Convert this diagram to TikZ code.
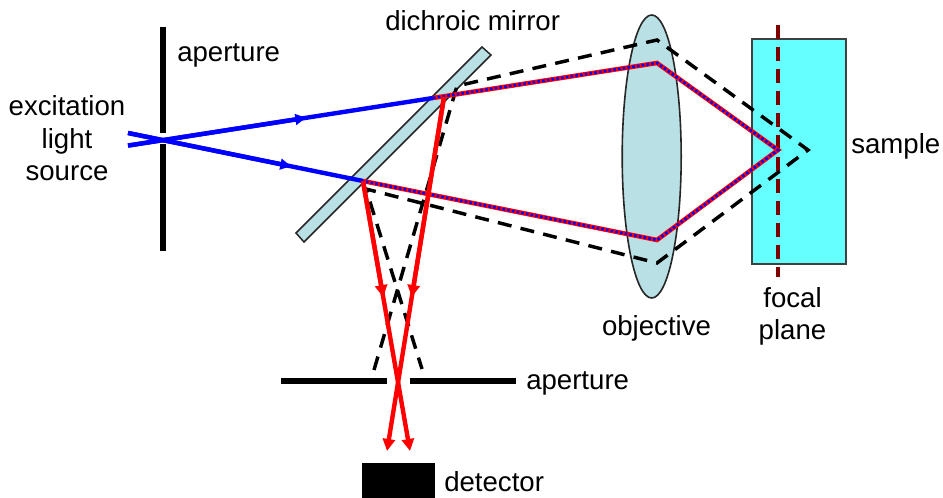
\documentclass[tikz,border=0pt]{standalone}
\usepackage{fontspec}
\setmainfont{Liberation Sans}
\usetikzlibrary{arrows.meta,shapes.geometric,calc}
\definecolor{lensfill}{RGB}{185,224,228}
\definecolor{samplefill}{RGB}{102,255,255}
\definecolor{focalred}{RGB}{128,0,0}
\definecolor{rayblue}{RGB}{0,0,255}
\definecolor{rayred}{RGB}{255,0,0}
\tikzset{
  label text/.style={font=\fontsize{20.7pt}{24pt}\selectfont,inner sep=0pt,text=black},
  stop bar/.style={line width=4.5pt,black},
  blue ray/.style={line width=3.3pt,rayblue,line join=miter},
  red ray/.style={line width=3.3pt,rayred},
  mixed under/.style={line width=3.4pt,rayred,line join=miter},
  mixed over/.style={line width=2pt,rayblue,dash pattern=on 2pt off 1.6pt,line join=miter},
  black dash/.style={line width=2.6pt,black,dash pattern=on 10.5pt off 7pt,line join=miter},
  focal dash/.style={line width=2.6pt,focalred,dash pattern=on 10.5pt off 6pt},
  tip/.style={-{Triangle[length=9pt,width=9pt]}},
  smalltip/.style={-{Triangle[length=8pt,width=8pt]}},
}
\begin{document}
\begin{tikzpicture}[x=0.75pt,y=-0.75pt]
\useasboundingbox (0,0) rectangle (943,498);
% key points
\coordinate (srcA) at (128,133);
\coordinate (srcB) at (128,145.6);
\coordinate (mirA) at (433,98);
\coordinate (mirB) at (363,181);
\coordinate (mirAr) at (444,97);
\coordinate (lensA) at (657,63);
\coordinate (lensB) at (657,240);
\coordinate (focus) at (778,150);
\coordinate (dashTop) at (657,40);
\coordinate (dashBot) at (657,263);
\coordinate (dashTip) at (808,150);
\coordinate (dashA) at (457,86);
\coordinate (dashB) at (366,189);
\coordinate (dashEndA) at (374,370);
\coordinate (dashEndB) at (422,369);
\coordinate (redEndA) at (387,451);
\coordinate (redEndB) at (410,451);
\coordinate (blueMidA) at ($(srcB)!0.5836!(mirA)$);
\coordinate (blueMidB) at ($(srcA)!0.6936!(mirB)$);
\coordinate (redMidA) at ($(mirAr)!0.565!(redEndA)$);
\coordinate (redMidB) at ($(mirB)!0.43!(redEndB)$);
% sample and focal plane
\node[draw=black!75,line width=1.5pt,fill=samplefill,minimum width=70.5pt,minimum height=168.75pt,inner sep=0pt,outer sep=0pt,anchor=north west] (sampleBox) at (752,39) {};
\coordinate (focalTop) at (778,25);
\coordinate (focalBot) at (778,277);
\draw[focal dash] (focalTop) -- (focalBot);
% objective
\node[draw=black!85,line width=1.2pt,fill=lensfill,ellipse,minimum width=44.25pt,minimum height=212.25pt,inner sep=0pt] (lens) at (651.7,156.5) {};
% mirror
\draw[black!85,line width=1.1pt,fill=lensfill] (482,47) coordinate (m1) -- (491,55) coordinate (m2) -- (304,242) coordinate (m3) -- (296,233) coordinate (m4) -- cycle;
% dashed imaging rays
\draw[black dash] (dashEndA) -- (dashA) -- (dashTop) -- (dashTip) -- (dashBot) -- (dashB) -- (dashEndB);
% apertures and detector
\draw[stop bar] (163,27) coordinate (ap1) -- (163,133.5) coordinate (ap2);
\draw[stop bar] (163,144.5) coordinate (ap3) -- (163,251) coordinate (ap4);
\draw[stop bar] (281,381) coordinate (ap5) -- (387,381) coordinate (ap6);
\draw[stop bar] (410,381) coordinate (ap7) -- (516,381) coordinate (ap8);
\fill[black] (362,463) rectangle (435,498);
% blue rays
\draw[blue ray] (srcA) -- (mirB);
\draw[blue ray,smalltip] (srcA) -- (blueMidB);
\draw[blue ray] (srcB) -- (mirA);
\draw[blue ray,smalltip] (srcB) -- (blueMidA);
% mixed rays
\draw[mixed under] (mirA) -- (lensA) -- (focus) -- (lensB) -- (mirB);
\draw[mixed over] (mirA) -- (lensA) -- (focus) -- (lensB) -- (mirB);
% red rays
\draw[red ray,tip] (mirAr) -- (redEndA);
\draw[red ray,tip] (mirAr) -- (redMidA);
\draw[red ray,tip] (mirB) -- (redEndB);
\draw[red ray,tip] (mirB) -- (redMidB);
% labels
\node[label text,anchor=base west] (lblAp1) at (177,62) {aperture};
\node[label text,anchor=base] (lblSrc1) at (67,116) {excitation};
\node[label text,anchor=base] (lblSrc2) at (67,149) {light};
\node[label text,anchor=base] (lblSrc3) at (67,181) {source};
\node[label text,anchor=base west] (lblMirror) at (385,31) {dichroic mirror};
\node[label text,anchor=base] (lblObj) at (656.5,336) {objective};
\node[label text,anchor=base] (lblFocal1) at (792.5,308) {focal};
\node[label text,anchor=base] (lblFocal2) at (792.5,340) {plane};
\node[label text,anchor=base west] (lblSample) at (851,154) {sample};
\node[label text,anchor=base west] (lblAp2) at (526,390) {aperture};
\node[label text,anchor=base west] (lblDet) at (444,492) {detector};
\end{tikzpicture}
\end{document}
